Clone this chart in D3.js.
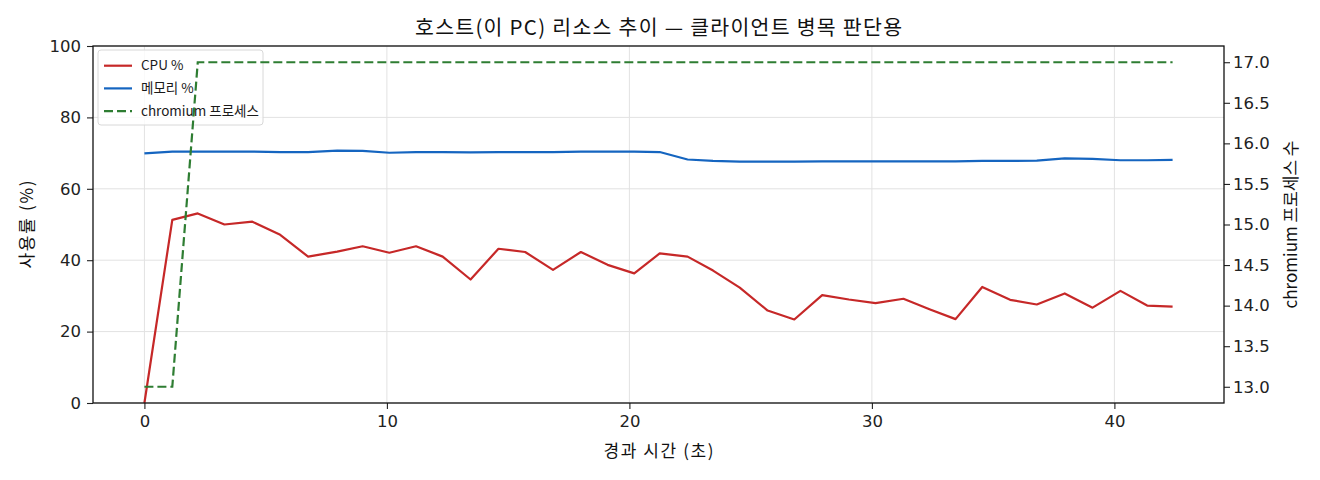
<!DOCTYPE html>
<html>
<head>
<meta charset="utf-8">
<script src="https://cdn.jsdelivr.net/npm/d3@7"></script>
<style>
  body { margin: 0; background: #fff; }
  svg { font-family: "Noto Sans CJK KR", "Noto Sans", sans-serif; }
</style>
</head>
<body>
<svg width="1320" height="480"></svg>
<script>
const times = [0, 1.15, 2.2, 3.3, 4.45, 5.6, 6.75, 7.95, 9.0, 10.1, 11.2, 12.3, 13.45,
  14.6, 15.7, 16.85, 18.0, 19.1, 20.2, 21.25, 22.4, 23.45, 24.55, 25.7, 26.8, 27.95,
  29.05, 30.15, 31.3, 32.4, 33.45, 34.55, 35.7, 36.8, 37.95, 39.1, 40.25, 41.35, 42.4]
const cpu = [0, 51.3, 53.1, 50.0, 50.8, 47.1, 41.0, 42.4, 43.9, 42.1, 43.9, 41.0, 34.6,
  43.2, 42.3, 37.3, 42.3, 38.7, 36.3, 41.9, 41.0, 37.1, 32.3, 25.9, 23.4, 30.2,
  29.0, 28.0, 29.2, 26.2, 23.5, 32.5, 28.9, 27.6, 30.7, 26.7, 31.4, 27.3, 27.0]
const mem = [69.9, 70.4, 70.4, 70.4, 70.4, 70.3, 70.3, 70.7, 70.6, 70.1, 70.3, 70.3, 70.2,
  70.3, 70.3, 70.3, 70.4, 70.4, 70.4, 70.3, 68.2, 67.8, 67.6, 67.6, 67.6, 67.7,
  67.7, 67.7, 67.7, 67.7, 67.7, 67.8, 67.8, 67.9, 68.5, 68.4, 68.0, 68.0, 68.1]
const procs = [13, 13, 17, 17, 17, 17, 17, 17, 17, 17, 17, 17, 17,
  17, 17, 17, 17, 17, 17, 17, 17, 17, 17, 17, 17, 17,
  17, 17, 17, 17, 17, 17, 17, 17, 17, 17, 17, 17, 17]
const xTicks = [0, 10, 20, 30, 40]
const yTicks = [0, 20, 40, 60, 80, 100]
const y2Ticks = [13.0, 13.5, 14.0, 14.5, 15.0, 15.5, 16.0, 16.5, 17.0]

const title = "호스트(이 PC) 리소스 추이 — 클라이언트 병목 판단용"
const xLabel = "경과 시간 (초)"
const yLabel = "사용률 (%)"
const y2Label = "chromium 프로세스 수"
const seriesNames = ["CPU %", "메모리 %", "chromium 프로세스"]
const colors = ["#c62828", "#1565c0", "#2e7d32"]

const mLeft = 93, mRight = 1224, mTop = 46, mBottom = 403
const dash = "9,4"

const x = d3.scaleLinear().domain([-2.12, 44.52]).range([mLeft, mRight])
const y = d3.scaleLinear().domain([0, 100]).range([mBottom, mTop])
const y2 = d3.scaleLinear().domain([12.8, 17.2]).range([mBottom, mTop])

const svg = d3.select("svg")

// grid
svg.append("g")
  .selectAll("line")
  .data(xTicks)
  .enter().append("line")
  .attr("x1", d => x(d)).attr("x2", d => x(d))
  .attr("y1", mTop).attr("y2", mBottom)
  .attr("stroke", "#e2e2e2").attr("stroke-width", 1)
svg.append("g")
  .selectAll("line")
  .data(yTicks)
  .enter().append("line")
  .attr("x1", mLeft).attr("x2", mRight)
  .attr("y1", d => y(d)).attr("y2", d => y(d))
  .attr("stroke", "#e2e2e2").attr("stroke-width", 1)

const line = (ys, scale) => d3.line()
  .x((d, i) => x(times[i]))
  .y(d => scale(d))(ys)

svg.append("path").attr("d", line(cpu, y))
  .attr("fill", "none").attr("stroke", colors[0]).attr("stroke-width", 2.2)
  .attr("stroke-linejoin", "round")
svg.append("path").attr("d", line(mem, y))
  .attr("fill", "none").attr("stroke", colors[1]).attr("stroke-width", 2.2)
  .attr("stroke-linejoin", "round")

// legend (sits under the right-axis line, like the original)
const legend = svg.append("g").attr("transform", "translate(98,50)")
legend.append("rect")
  .attr("width", 165).attr("height", 75).attr("rx", 3)
  .attr("fill", "rgba(255,255,255,0.8)").attr("stroke", "#d8d8d8")
const items = legend.selectAll("g")
  .data(seriesNames)
  .enter().append("g")
  .attr("transform", (d, i) => `translate(0,${15.7 + i * 22.7})`)
items.append("line")
  .attr("x1", 6).attr("x2", 34)
  .attr("stroke", (d, i) => colors[i]).attr("stroke-width", 2.2)
  .attr("stroke-dasharray", (d, i) => i === 2 ? dash : null)
items.append("text")
  .attr("x", 43).attr("y", 4.5)
  .style("font-size", "13.5px").attr("fill", "#1a1a1a")
  .text(d => d)

svg.append("path").attr("d", line(procs, y2))
  .attr("fill", "none").attr("stroke", colors[2]).attr("stroke-width", 2.2)
  .attr("stroke-dasharray", dash)

// axes
const xAxis = d3.axisBottom(x).tickValues(xTicks).tickSize(6).tickPadding(6)
const yAxis = d3.axisLeft(y).tickValues(yTicks).tickSize(6).tickPadding(6)
const y2Axis = d3.axisRight(y2).tickValues(y2Ticks).tickSize(6).tickPadding(3)
  .tickFormat(d3.format(".1f"))

const styleAxis = g => {
  g.select(".domain").remove()
  g.selectAll("line").attr("stroke", "#222").attr("stroke-width", 1.1)
  g.selectAll("text").attr("fill", "#222").style("font-size", "16.5px")
    .style("font-family", '"DejaVu Sans", "Noto Sans", sans-serif')
}
svg.append("g").attr("transform", `translate(0,${mBottom})`).call(xAxis).call(styleAxis)
svg.append("g").attr("transform", `translate(${mLeft},0)`).call(yAxis).call(styleAxis)
svg.append("g").attr("transform", `translate(${mRight},0)`).call(y2Axis).call(styleAxis)

svg.append("rect")
  .attr("x", mLeft).attr("y", mTop)
  .attr("width", mRight - mLeft).attr("height", mBottom - mTop)
  .attr("fill", "none").attr("stroke", "#111").attr("stroke-width", 1.3)

// titles
svg.append("text").attr("x", (mLeft + mRight) / 2).attr("y", 35)
  .attr("text-anchor", "middle").style("font-size", "20.5px").attr("fill", "#111")
  .attr("textLength", 487).attr("lengthAdjust", "spacing")
  .text(title)
svg.append("text").attr("x", (mLeft + mRight) / 2).attr("y", 457)
  .attr("text-anchor", "middle").style("font-size", "17px").attr("fill", "#111")
  .attr("textLength", 110).attr("lengthAdjust", "spacing")
  .text(xLabel)
svg.append("text")
  .attr("transform", `translate(33,${(mTop + mBottom) / 2}) rotate(-90)`)
  .attr("text-anchor", "middle").style("font-size", "17px").attr("fill", "#111")
  .attr("textLength", 88).attr("lengthAdjust", "spacing")
  .text(yLabel)
svg.append("text")
  .attr("transform", `translate(1297,${(mTop + mBottom) / 2}) rotate(-90)`)
  .attr("text-anchor", "middle").style("font-size", "17px").attr("fill", "#111")
  .attr("textLength", 168).attr("lengthAdjust", "spacing")
  .text(y2Label)
</script>
</body>
</html>
